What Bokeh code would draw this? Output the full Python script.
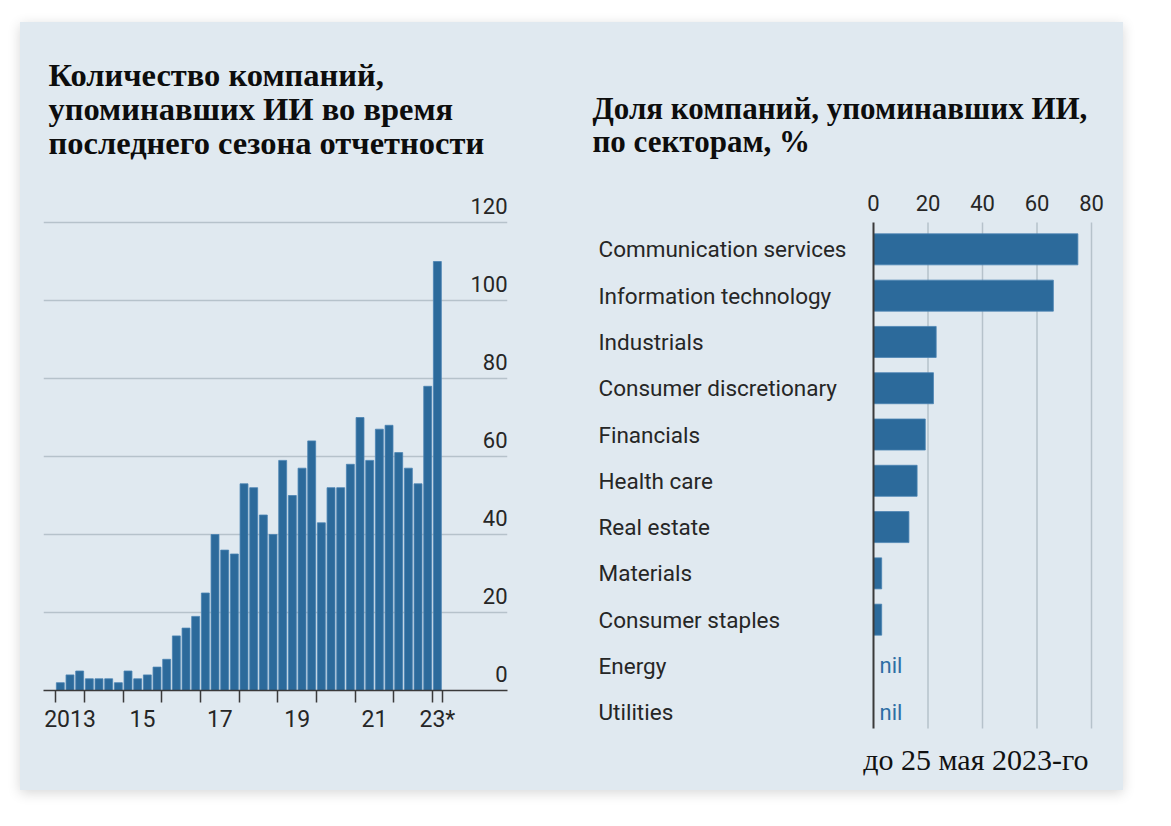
from bokeh.plotting import figure
from bokeh.models import Range1d, FixedTicker
from bokeh.layouts import row
from bokeh.core.properties import value
from bokeh.embed import file_html
from bokeh.resources import INLINE

# ---------------- data ----------------
quarters = ["2013Q2", "2013Q3", "2013Q4",
            "2014Q1", "2014Q2", "2014Q3", "2014Q4",
            "2015Q1", "2015Q2", "2015Q3", "2015Q4",
            "2016Q1", "2016Q2", "2016Q3", "2016Q4",
            "2017Q1", "2017Q2", "2017Q3", "2017Q4",
            "2018Q1", "2018Q2", "2018Q3", "2018Q4",
            "2019Q1", "2019Q2", "2019Q3", "2019Q4",
            "2020Q1", "2020Q2", "2020Q3", "2020Q4",
            "2021Q1", "2021Q2", "2021Q3", "2021Q4",
            "2022Q1", "2022Q2", "2022Q3", "2022Q4",
            "2023Q1"]
counts = [2, 4, 5,
          3, 3, 3, 2,
          5, 3, 4, 6,
          8, 14, 16, 19,
          25, 40, 36, 35,
          53, 52, 45, 40,
          59, 50, 57, 64,
          43, 52, 52, 58,
          70, 59, 67, 68,
          61, 57, 53, 78,
          110]
count_ticks = [0, 20, 40, 60, 80, 100, 120]
year_label_years = [2013, 2015, 2017, 2019, 2021, 2023]
year_label_texts = ["2013", "15", "17", "19", "21", "23*"]

sectors = ["Communication services", "Information technology", "Industrials",
           "Consumer discretionary", "Financials", "Health care", "Real estate",
           "Materials", "Consumer staples", "Energy", "Utilities"]
shares = [75, 66, 23, 22, 19, 16, 13, 3, 3, 0, 0]
share_ticks = [0, 20, 40, 60, 80]

title_left = ["Количество компаний,", "упоминавших ИИ во время", "последнего сезона отчетности"]
title_right = ["Доля компаний, упоминавших ИИ,", "по секторам, %"]
footnote = "до 25 мая 2023-го"

# ---------------- style ----------------
PANEL = "#e0e9f0"
BAR = "#2c6a9b"
BAR_EDGE = "#4a83b3"
GRID = "#b6c2cb"
AXIS = "#3a3a3a"
TEXT = "#262626"
NIL = "#2e6ea4"
SANS = "Roboto"
SERIF = "Liberation Serif"


def no_align(p):
    try:
        p.frame_align = False
    except Exception:
        pass


# ---------------- left chart ----------------
xs = [int(q[:4]) + (int(q[-1]) - 0.5) / 4 for q in quarters]
first = min(xs) - 0.125
last = max(xs) + 0.125
boundaries = [first] + list(range(int(first) + 1, int(last) + 1)) + [last]
label_pos = [(max(y, first) + min(y + 1, last)) / 2 for y in year_label_years]

PX_YEAR = 38.67
PX_COUNT = 3.9
xr1 = Range1d(first - 12 / PX_YEAR, first + 452 / PX_YEAR)
yr1 = Range1d(0, 650 / PX_COUNT)

p1 = figure(width=540, height=768, x_range=xr1, y_range=yr1,
            output_backend="svg", toolbar_location=None,
            y_axis_location=None,
            min_border_left=23, min_border_right=53,
            min_border_top=18, min_border_bottom=100,
            background_fill_color=None, border_fill_color=None,
            outline_line_color=None)
no_align(p1)

p1.xgrid.visible = False
p1.ygrid.ticker = FixedTicker(ticks=count_ticks)
p1.ygrid.grid_line_color = GRID
p1.ygrid.grid_line_width = 1.5

p1.vbar(x=xs, top=counts, bottom=0, width=0.205,
        fill_color=BAR, line_color=BAR_EDGE, line_width=0.8)

ax = p1.xaxis[0]
ax.ticker = FixedTicker(ticks=label_pos, minor_ticks=boundaries)
ax.major_label_overrides = {p: t for p, t in zip(label_pos, year_label_texts)}
ax.major_tick_line_color = None
ax.major_tick_out = 0
ax.major_tick_in = 0
ax.minor_tick_line_color = AXIS
ax.minor_tick_line_width = 1.5
ax.minor_tick_out = 12
ax.minor_tick_in = 0
ax.axis_line_color = AXIS
ax.axis_line_width = 1.5
ax.major_label_standoff = 3
ax.major_label_text_font = SANS
ax.major_label_text_font_size = "23px"
ax.major_label_text_color = TEXT

p1.text(x=[xr1.end] * len(count_ticks), y=count_ticks,
        text=[str(t) for t in count_ticks],
        text_align="right", text_baseline="bottom", y_offset=-9,
        text_font=value(SANS), text_font_size="22px", text_color=TEXT)

p1.text(x=[xr1.start] * len(title_left), y=[157.77, 149.13, 140.46],
        text=title_left, x_offset=5,
        text_align="left", text_baseline="alphabetic",
        text_font=value(SERIF), text_font_style="bold",
        text_font_size="32.5px", text_color="#0d0d0d")

# ---------------- right chart ----------------
idx = list(range(len(sectors)))
PX_SHARE = 2.725
PX_ROW = 46.29
band_top = -0.58
band_bottom = len(sectors) - 0.65
row0 = 248.85  # page y of first row centre, used only to set the visible extent
xr2 = Range1d(-283 / PX_SHARE, 232 / PX_SHARE)
yr2 = Range1d((785 - row0) / PX_ROW, -(row0 - 72) / PX_ROW)

p2 = figure(width=563, height=768, x_range=xr2, y_range=yr2,
            output_backend="svg", toolbar_location=None,
            x_axis_location="above", y_axis_location=None,
            min_border_left=30, min_border_right=18,
            min_border_top=50, min_border_bottom=5,
            background_fill_color=None, border_fill_color=None,
            outline_line_color=None)
no_align(p2)

p2.xgrid.visible = False
p2.ygrid.visible = False

p2.segment(x0=share_ticks[1:], x1=share_ticks[1:],
           y0=[band_top] * (len(share_ticks) - 1), y1=[band_bottom] * (len(share_ticks) - 1),
           line_color=GRID, line_width=1.5)

pos_idx = [i for i in idx if shares[i] > 0]
p2.hbar(y=pos_idx, left=0, right=[shares[i] for i in pos_idx], height=0.67,
        fill_color=BAR, line_color=BAR_EDGE, line_width=0.8)

p2.segment(x0=[share_ticks[0]], x1=[share_ticks[0]], y0=[band_top], y1=[band_bottom],
           line_color=AXIS, line_width=2)

nil_idx = [i for i in idx if shares[i] == 0]
p2.text(x=[0] * len(nil_idx), y=nil_idx, text=["nil"] * len(nil_idx),
        x_offset=6, text_align="left", text_baseline="middle",
        text_font=value(SANS), text_font_size="22px", text_color=NIL)

p2.text(x=[xr2.start] * len(sectors), y=idx, text=sectors, x_offset=8,
        text_align="left", text_baseline="middle",
        text_font=value(SANS), text_font_size="22.5px", text_color=TEXT)

ax2 = p2.xaxis[0]
ax2.ticker = FixedTicker(ticks=share_ticks)
ax2.fixed_location = band_top
ax2.axis_line_color = None
ax2.major_tick_line_color = None
ax2.minor_tick_line_color = None
ax2.major_tick_out = 0
ax2.major_tick_in = 0
ax2.major_label_standoff = 12
ax2.major_label_text_font = SANS
ax2.major_label_text_font_size = "22px"
ax2.major_label_text_color = TEXT

p2.text(x=[xr2.start] * len(title_right), y=[-3.053, -2.340],
        text=title_right, x_offset=2,
        text_align="left", text_baseline="alphabetic",
        text_font=value(SERIF), text_font_style="bold",
        text_font_size="31px", text_color="#0d0d0d")

p2.text(x=[share_ticks[-1]], y=[11.02], text=[footnote], x_offset=-3,
        text_align="right", text_baseline="alphabetic",
        text_font=value(SERIF), text_font_size="30px", text_color="#111111")

layout = row(p1, p2, margin=(22, 0, 0, 20),
             styles={"background-color": PANEL,
                     "box-shadow": "0 3px 12px rgba(0,0,0,0.16)"})

open("out.html", "w").write(file_html(layout, INLINE))
